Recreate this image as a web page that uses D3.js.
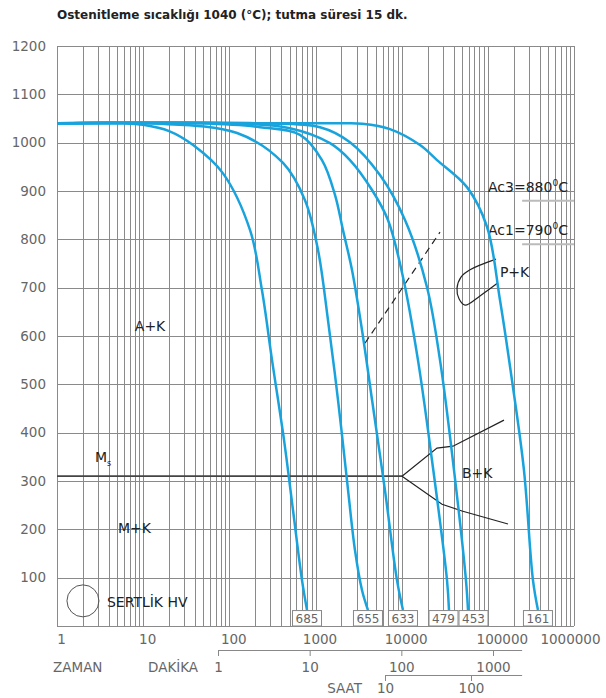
<!doctype html>
<html lang="tr">
<head>
<meta charset="utf-8">
<title>CCT diyagramı</title>
<script src="https://cdnjs.cloudflare.com/ajax/libs/d3/7.8.5/d3.min.js"></script>
<style>
  body { margin: 0; background: #fff; }
  svg text { font-family: "DejaVu Sans", sans-serif; }
</style>
</head>
<body>
<svg width="606" height="698" id="svg"></svg>
<script>

// chart title
var title = "Ostenitleme sıcaklığı 1040 (°C); tutma süresi 15 dk.";

// axis ticks
var tempTicks = [100, 200, 300, 400, 500, 600, 700, 800, 900, 1000, 1100, 1200];
var timeTicks = [1, 10, 100, 1000, 10000, 100000, 1000000];
var minuteTicks = [1, 10, 100, 1000];
var hourTicks = [10, 100];

// hardness (HV) at the end of each cooling curve
var hardness = [685, 655, 633, 479, 453, 161];

// cooling curves: [time (s), temperature (°C)]
var curveA = [[1,1040],[6,1040],[10,1037],[20,1024],[38,995],[84,937],[174,819],[239,695],[313,550],[431,385],[548,240],[697,95],[797,33]];
var curveB = [[1,1040],[12,1040],[123,1020],[420,958],[755,881],[1069,778],[1396,633],[1824,468],[2318,302],[2871,157],[3467,74],[4064,33]];
var curveC = [[1,1040],[46,1040],[227,1032],[661,1016],[1189,964],[1683,892],[2084,819],[2649,737],[3467,612],[4529,468],[6397,281],[8822,95],[10356,33]];
var curveD = [[1,1040],[102,1040],[506,1030],[1473,999],[2512,964],[4529,902],[6934,840],[10356,722],[15460,550],[22490,343],[33590,95],[35420,33]];
var curveE = [[1,1040],[227,1040],[1128,1032],[2512,1001],[5598,933],[10930,840],[19680,701],[27860,550],[40460,323],[55720,95],[58860,33]];
var curveF = [[1,1040],[1923,1040],[3500,1039],[7311,1028],[16320,995],[25700,964],[57260,908],[97800,826],[138200,675],[190500,509],[262400,323],[334000,95],[381700,33]];
var cooling = [curveA, curveB, curveC, curveD, curveE, curveF];

// transformation lines
var msLine = [[1,310],[10090,310]];
var bainiteUpper = [[10090,310],[25700,368],[39400,372],[153900,426]];
var bainiteLower = [[10090,310],[29400,252],[50100,238],[171400,211]];
var pearlite = [[124400,759],[62100,737],[48800,722],[43900,699],[46300,677],[54300,664],[81100,683],[131200,710]];
var dashedLine = [[3750,585],[27860,815]];
var acLines = [{name: "Ac3", temp: 880}, {name: "Ac1", temp: 790}];

// region labels: [text, time, temp]
var regionLabels = [["A+K", 8, 610], ["M+K", 5.1, 192], ["B+K", 50100, 306], ["P+K", 138000, 722]];

var svg = d3.select('#svg');

var x = d3.scaleLog().domain([1, 1e6]).range([57, 574]);
var y = d3.scaleLinear().domain([0, 1200]).range([626, 46]);

// secondary time axes (as printed)
var xMin = d3.scaleLog().domain([1, 1000]).range([218, 493]);
var xHour = d3.scaleLog().domain([10, 100]).range([385, 471]);
var axisEnd = x(2.5e5);

var grid = svg.append('g').attr('stroke', '#8a8a8a').attr('stroke-width', 1);

grid.selectAll('.vg')
	.data(x.ticks())
	.enter().append('line')
	.attr('x1', function(d) { return Math.round(x(d)) + 0.5; })
	.attr('x2', function(d) { return Math.round(x(d)) + 0.5; })
	.attr('y1', y(1200)).attr('y2', y(0));

grid.selectAll('.hg')
	.data(d3.range(0, 1300, 100))
	.enter().append('line')
	.attr('x1', x(1)).attr('x2', x(1e6))
	.attr('y1', function(d) { return Math.round(y(d)) + 0.5; })
	.attr('y2', function(d) { return Math.round(y(d)) + 0.5; });

// title
svg.append('text')
	.attr('x', 57).attr('y', 19)
	.attr('font-size', 12).attr('font-weight', 'bold').attr('fill', '#222')
	.text(title);

// y axis
var yAxis = svg.append('g')
	.attr('transform', 'translate(57,0)')
	.call(d3.axisLeft(y).tickValues(tempTicks).tickSize(0).tickPadding(11).tickFormat(d3.format('d')));
yAxis.select('.domain').remove();
yAxis.selectAll('text').attr('font-size', 13.5).attr('fill', '#666').attr('font-family', 'DejaVu Sans');

// x axis
var labelShift = {100000: 14};
var xAxis = svg.append('g')
	.attr('transform', 'translate(0,626)')
	.call(d3.axisBottom(x).tickValues(timeTicks).tickSize(0).tickPadding(8).tickFormat(d3.format('d')));
xAxis.select('.domain').remove();
xAxis.selectAll('text')
	.attr('font-size', 13.5).attr('fill', '#666').attr('font-family', 'DejaVu Sans')
	.attr('dx', function(d) { return labelShift[d] || 4; })
	.filter(function(d) { return d === 1e6; })
	.attr('text-anchor', 'end').attr('dx', 26);

// minute axis
var minAxis = svg.append('g')
	.attr('transform', 'translate(0,650)')
	.call(d3.axisBottom(xMin).tickValues(minuteTicks).tickSize(6).tickPadding(6).tickFormat(d3.format('d')));
minAxis.select('.domain').remove();
minAxis.append('line').attr('x1', xMin(1)).attr('x2', axisEnd).attr('y1', 0.5).attr('y2', 0.5);

// hour axis
var hourAxis = svg.append('g')
	.attr('transform', 'translate(0,675)')
	.call(d3.axisBottom(xHour).tickValues(hourTicks).tickSize(6).tickPadding(2).tickFormat(d3.format('d')));
hourAxis.select('.domain').remove();
hourAxis.append('line').attr('x1', xHour(10)).attr('x2', axisEnd).attr('y1', 0.5).attr('y2', 0.5);

[minAxis, hourAxis].forEach(function(g) {
	g.selectAll('line').attr('stroke', '#888');
	g.selectAll('text').attr('font-size', 13.5).attr('fill', '#666').attr('font-family', 'DejaVu Sans');
});

svg.append('text').attr('x', 53).attr('y', 672).attr('font-size', 13.5).attr('fill', '#666').text('ZAMAN');
svg.append('text').attr('x', 148).attr('y', 672).attr('font-size', 13.5).attr('fill', '#666').text('DAKİKA');
svg.append('text').attr('x', 362).attr('y', 693).attr('text-anchor', 'end').attr('font-size', 13.5).attr('fill', '#666').text('SAAT');

var line = d3.line()
	.x(function(d) { return x(d[0]); })
	.y(function(d) { return y(d[1]); });

// Ac lines
svg.selectAll('.ac')
	.data(acLines)
	.enter().append('line')
	.attr('x1', x(2.5e5)).attr('x2', x(1e6))
	.attr('y1', function(d) { return y(d.temp); })
	.attr('y2', function(d) { return y(d.temp); })
	.attr('stroke', '#bbb').attr('stroke-width', 2);

var acText = svg.selectAll('.actext')
	.data(acLines)
	.enter().append('text')
	.attr('x', x(8.5e5)).attr('y', function(d) { return y(d.temp) - 9; })
	.attr('text-anchor', 'end').attr('font-size', 14).attr('fill', '#222');
acText.append('tspan').text(function(d) { return d.name + '=' + d.temp; });
acText.append('tspan').attr('font-size', 9).attr('dy', -6).text('0');
acText.append('tspan').attr('dy', 6).text('C');

// Ms line
svg.append('path')
	.attr('d', line(msLine))
	.attr('fill', 'none').attr('stroke', '#444').attr('stroke-width', 1.6);

[bainiteUpper, bainiteLower].forEach(function(b) {
	svg.append('path')
		.attr('d', line(b))
		.attr('fill', 'none').attr('stroke', '#222').attr('stroke-width', 1.2);
});

svg.append('path')
	.attr('d', line.curve(d3.curveCatmullRom)(pearlite))
	.attr('fill', 'none').attr('stroke', '#222').attr('stroke-width', 1.2);
line.curve(d3.curveLinear);

svg.append('path')
	.attr('d', line(dashedLine))
	.attr('fill', 'none').attr('stroke', '#222').attr('stroke-width', 1.2)
	.attr('stroke-dasharray', '7,5');

// cooling curves
var curveLine = d3.line()
	.x(function(d) { return x(d[0]); })
	.y(function(d) { return y(d[1]); })
	.curve(d3.curveCatmullRom.alpha(0.5));

svg.selectAll('.cool')
	.data(cooling)
	.enter().append('path')
	.attr('d', curveLine)
	.attr('fill', 'none').attr('stroke', '#19a3dd').attr('stroke-width', 2.5);

// hardness boxes, pushed apart where they would overlap
var boxW = 29;
var boxX = cooling.map(function(c) { return x(c[c.length - 1][0]); });
for (var i = 1; i < boxX.length; i++) {
	if (boxX[i] - boxX[i - 1] < boxW + 1) {
		var mid = (boxX[i] + boxX[i - 1]) / 2;
		boxX[i - 1] = mid - (boxW + 1) / 2;
		boxX[i] = mid + (boxW + 1) / 2;
	}
}
var boxes = svg.selectAll('.hv')
	.data(hardness)
	.enter().append('g')
	.attr('transform', function(d, i) { return 'translate(' + boxX[i] + ',' + y(33) + ')'; });
boxes.append('rect')
	.attr('x', -boxW / 2).attr('y', 0.5).attr('width', boxW).attr('height', y(0) - y(33) - 0.5)
	.attr('fill', '#fff').attr('stroke', '#888');
boxes.append('text')
	.attr('y', 13).attr('text-anchor', 'middle').attr('font-size', 12).attr('fill', '#666')
	.text(function(d) { return d; });

// labels
svg.selectAll('.rl')
	.data(regionLabels)
	.enter().append('text')
	.attr('x', function(d) { return x(d[1]); })
	.attr('y', function(d) { return y(d[2]); })
	.attr('font-size', 14).attr('fill', '#222')
	.text(function(d) { return d[0]; });

var ms = svg.append('text').attr('x', x(2.76)).attr('y', y(339)).attr('font-size', 14).attr('fill', '#222');
ms.append('tspan').text('M');
ms.append('tspan').attr('font-size', 8).attr('dy', 4).text('s');

svg.append('circle')
	.attr('cx', x(2)).attr('cy', y(52)).attr('r', 16)
	.attr('fill', 'none').attr('stroke', '#555').attr('stroke-width', 1);
svg.append('text')
	.attr('x', x(2) + 24).attr('y', y(52) + 6)
	.attr('font-size', 14).attr('fill', '#222')
	.text('SERTLİK HV');

</script>
</body>
</html>
